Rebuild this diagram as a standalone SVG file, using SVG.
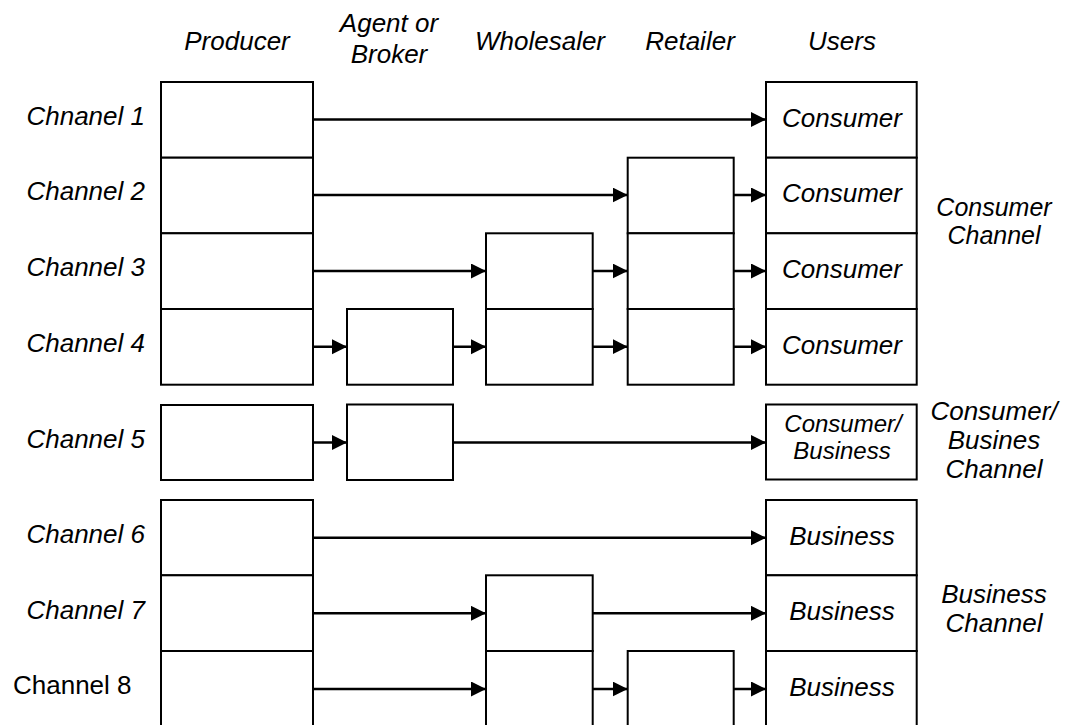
<svg xmlns="http://www.w3.org/2000/svg" width="1066" height="725" viewBox="0 0 1066 725">
  <style>
    .box { fill: #ffffff; stroke: #000000; stroke-width: 2; }
    .flow { fill: none; stroke: #000000; stroke-width: 2.5; marker-end: url(#arrow); }
    text { font-family: "Liberation Sans", Arial, sans-serif; font-size: 26px; fill: #000000; }
    .it { font-style: italic; }
    .mid { text-anchor: middle; }
    .end { text-anchor: end; }
    .sm { font-size: 24px; }
    .md { font-size: 25px; }
  </style>
  <defs>
    <marker id="arrow" markerUnits="userSpaceOnUse" markerWidth="16" markerHeight="16" refX="15" refY="7.5" orient="auto">
      <path d="M0,0 L15,7.5 L0,15 Z" fill="#000000"/>
    </marker>
  </defs>

  <rect width="1066" height="725" fill="#ffffff"/>

  <!-- column headings -->
  <g id="headers">
    <text class="it mid" x="237" y="50">Producer</text>
    <text class="it mid" x="389" y="32">Agent or</text>
    <text class="it mid" x="389" y="63">Broker</text>
    <text class="it mid" x="540" y="50">Wholesaler</text>
    <text class="it mid" x="690" y="50">Retailer</text>
    <text class="it mid" x="842" y="50">Users</text>
  </g>

  <!-- channel row labels -->
  <g id="row-labels">
    <text class="it end" x="145" y="125">Chnanel 1</text>
    <text class="it end" x="145" y="200">Channel 2</text>
    <text class="it end" x="145" y="276">Channel 3</text>
    <text class="it end" x="145" y="352">Channel 4</text>
    <text class="it end" x="145" y="448">Channel 5</text>
    <text class="it end" x="145" y="543">Channel 6</text>
    <text class="it end" x="145" y="619">Channel 7</text>
    <text x="13" y="694">Channel 8</text>
  </g>

  <!-- producer column -->
  <g id="producer">
    <rect class="box" x="161" y="82" width="152" height="75.7"/>
    <rect class="box" x="161" y="157.7" width="152" height="75.6"/>
    <rect class="box" x="161" y="233.3" width="152" height="75.7"/>
    <rect class="box" x="161" y="309" width="152" height="75.7"/>
    <rect class="box" x="161" y="405" width="152" height="75"/>
    <rect class="box" x="161" y="500" width="152" height="75.3"/>
    <rect class="box" x="161" y="575.3" width="152" height="75.7"/>
    <rect class="box" x="161" y="651" width="152" height="80"/>
  </g>

  <!-- agent or broker column -->
  <g id="agent">
    <rect class="box" x="347" y="309" width="106" height="75.7"/>
    <rect class="box" x="347" y="404.5" width="106" height="75.5"/>
  </g>

  <!-- wholesaler column -->
  <g id="wholesaler">
    <rect class="box" x="486" y="233.3" width="106.7" height="75.7"/>
    <rect class="box" x="486" y="309" width="106.7" height="75.7"/>
    <rect class="box" x="486" y="575.3" width="106.7" height="75.7"/>
    <rect class="box" x="486" y="651" width="106.7" height="80"/>
  </g>

  <!-- retailer column -->
  <g id="retailer">
    <rect class="box" x="627.7" y="157.7" width="106" height="75.6"/>
    <rect class="box" x="627.7" y="233.3" width="106" height="75.7"/>
    <rect class="box" x="627.7" y="309" width="106" height="75.7"/>
    <rect class="box" x="627.7" y="651" width="106" height="80"/>
  </g>

  <!-- users column -->
  <g id="users">
    <rect class="box" x="766" y="82" width="150.7" height="75.7"/>
    <text class="it mid" x="842" y="127">Consumer</text>
    <rect class="box" x="766" y="157.7" width="150.7" height="75.6"/>
    <text class="it mid" x="842" y="202">Consumer</text>
    <rect class="box" x="766" y="233.3" width="150.7" height="75.7"/>
    <text class="it mid" x="842" y="278">Consumer</text>
    <rect class="box" x="766" y="309" width="150.7" height="75.7"/>
    <text class="it mid" x="842" y="354">Consumer</text>
    <rect class="box" x="766" y="404.5" width="150.7" height="75"/>
    <text class="it mid sm" x="843" y="431.5">Consumer/</text>
    <text class="it mid sm" x="842" y="458.5">Business</text>
    <rect class="box" x="766" y="500" width="150.7" height="75.3"/>
    <text class="it mid" x="842" y="545">Business</text>
    <rect class="box" x="766" y="575.3" width="150.7" height="75.7"/>
    <text class="it mid" x="842" y="620">Business</text>
    <rect class="box" x="766" y="651" width="150.7" height="80"/>
    <text class="it mid" x="842" y="696">Business</text>
  </g>

  <!-- channel group labels -->
  <g id="group-labels">
    <text class="it mid md" x="994" y="215.5">Consumer</text>
    <text class="it mid md" x="994" y="243.5">Channel</text>
    <text class="it mid" x="994" y="420">Consumer/</text>
    <text class="it mid" x="994" y="449">Busines</text>
    <text class="it mid" x="994" y="478">Channel</text>
    <text class="it mid" x="994" y="603">Business</text>
    <text class="it mid" x="994" y="632">Channel</text>
  </g>

  <!-- flow connectors -->
  <g id="connectors">
    <line class="flow" x1="313" y1="119.5" x2="766" y2="119.5"/>

    <line class="flow" x1="313" y1="195" x2="627.7" y2="195"/>
    <line class="flow" x1="733.7" y1="195" x2="766" y2="195"/>

    <line class="flow" x1="313" y1="271" x2="486" y2="271"/>
    <line class="flow" x1="592.7" y1="271" x2="627.7" y2="271"/>
    <line class="flow" x1="733.7" y1="271" x2="766" y2="271"/>

    <line class="flow" x1="313" y1="346.7" x2="347" y2="346.7"/>
    <line class="flow" x1="453" y1="346.7" x2="486" y2="346.7"/>
    <line class="flow" x1="592.7" y1="346.7" x2="627.7" y2="346.7"/>
    <line class="flow" x1="733.7" y1="346.7" x2="766" y2="346.7"/>

    <line class="flow" x1="313" y1="442.5" x2="347" y2="442.5"/>
    <line class="flow" x1="453" y1="442.5" x2="766" y2="442.5"/>

    <line class="flow" x1="313" y1="537.7" x2="766" y2="537.7"/>

    <line class="flow" x1="313" y1="613.3" x2="486" y2="613.3"/>
    <line class="flow" x1="592.7" y1="613.3" x2="766" y2="613.3"/>

    <line class="flow" x1="313" y1="689" x2="486" y2="689"/>
    <line class="flow" x1="592.7" y1="689" x2="627.7" y2="689"/>
    <line class="flow" x1="733.7" y1="689" x2="766" y2="689"/>
  </g>
</svg>
